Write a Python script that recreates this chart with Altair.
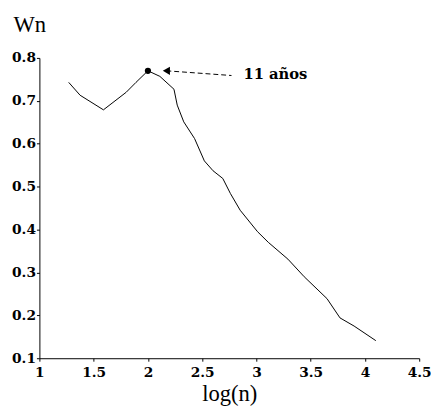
import altair as alt
import pandas as pd

log_n = [1.27, 1.375, 1.59, 1.80, 1.89, 2.0, 2.11, 2.24, 2.27, 2.33, 2.43, 2.52, 2.60,
         2.69, 2.76, 2.85, 3.01, 3.11, 3.29, 3.44, 3.65, 3.77, 3.90, 4.10]
wn = [0.743, 0.713, 0.679, 0.72, 0.743, 0.770, 0.757, 0.727, 0.69, 0.651, 0.612, 0.56,
      0.537, 0.519, 0.484, 0.445, 0.395, 0.370, 0.331, 0.290, 0.239, 0.194, 0.175, 0.141]

peak_x = [2.0]
peak_y = [0.770]
arrow_x = [2.17, 2.77]
arrow_y = [0.770, 0.759]
label_text = ["11 años"]
label_x = [2.88]
label_y = [0.762]

x_ticks = [1, 1.5, 2, 2.5, 3, 3.5, 4, 4.5]
y_ticks = [0.1, 0.2, 0.3, 0.4, 0.5, 0.6, 0.7, 0.8]

df = pd.DataFrame({"x": log_n, "y": wn})
peak = pd.DataFrame({"x": peak_x, "y": peak_y})
arrow = pd.DataFrame({"x": arrow_x, "y": arrow_y})
head = pd.DataFrame({"x": arrow_x[:1], "y": arrow_y[:1]})
lab = pd.DataFrame({"x": label_x, "y": label_y, "t": label_text})

serif = "Liberation Serif"
bold_serif = "DejaVu Serif"

xs = alt.Scale(domain=[1, 4.5], nice=False, zero=False)
ys = alt.Scale(domain=[0.1, 0.8], nice=False, zero=False)

common = dict(grid=False, labelFont=bold_serif, labelFontWeight="bold", labelFontSize=14,
              labelColor="black", tickSize=3, tickColor="black", domainColor="black",
              titleFont=serif, titleFontSize=23, titleFontWeight="normal",
              titleColor="black", labelFlush=False)

xax = alt.Axis(values=x_ticks, format="~g", title="log(n)", labelPadding=5,
               titlePadding=3, **common)
yax = alt.Axis(values=y_ticks, format=".1f", title="Wn", labelPadding=1,
               titleAngle=0, titleAlign="left", titleBaseline="alphabetic",
               titleX=-27, titleY=-27, **common)

line = alt.Chart(df).mark_line(color="black", strokeWidth=1).encode(
    x=alt.X("x:Q", scale=xs, axis=xax),
    y=alt.Y("y:Q", scale=ys, axis=yax),
)
dot = alt.Chart(peak).mark_point(filled=True, color="black", size=40, opacity=1).encode(
    x=alt.X("x:Q", scale=xs), y=alt.Y("y:Q", scale=ys))
arr = alt.Chart(arrow).mark_line(color="black", strokeWidth=1, strokeDash=[5, 3]).encode(
    x=alt.X("x:Q", scale=xs), y=alt.Y("y:Q", scale=ys))
ah = alt.Chart(head).mark_point(shape="triangle-left", filled=True, color="black",
                                size=70, opacity=1).encode(
    x=alt.X("x:Q", scale=xs), y=alt.Y("y:Q", scale=ys))
txt = alt.Chart(lab).mark_text(font=bold_serif, fontWeight="bold", fontSize=15,
                               align="left", baseline="middle", color="black").encode(
    x=alt.X("x:Q", scale=xs), y=alt.Y("y:Q", scale=ys), text="t:N")

chart = alt.layer(line, arr, ah, dot, txt).properties(
    width=387, height=306,
    background="white",
    autosize=alt.AutoSizeParams(type="none"),
    padding={"left": 32, "top": 47, "right": 12, "bottom": 56},
).configure_view(stroke=None)

chart.save("out.html", embed_options={"renderer": "svg", "actions": False})
